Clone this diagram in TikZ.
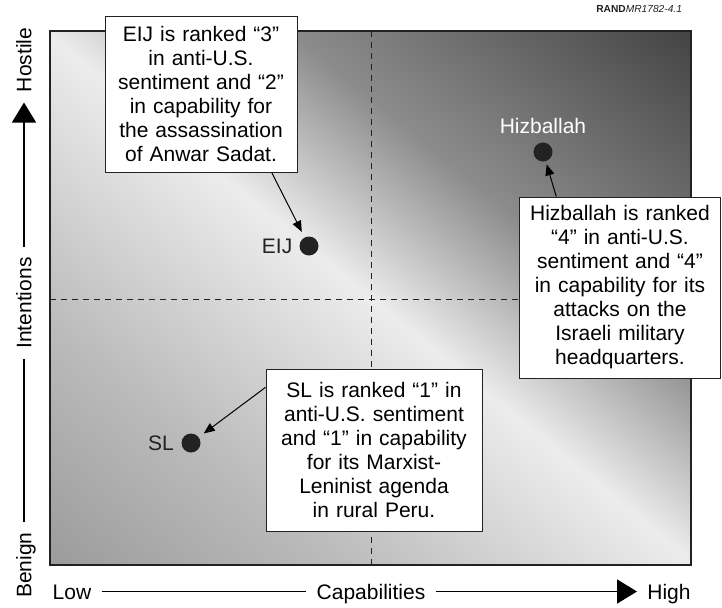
\documentclass[tikz,border=0pt]{standalone}
\usepackage{fontspec}
\setmainfont{Liberation Sans}
\usepackage{tikz}
\usetikzlibrary{arrows.meta}
\usetikzlibrary{positioning}
\usepackage{xcolor}

\definecolor{bgdark}{HTML}{454545}
\definecolor{bgmid}{HTML}{8C8C8C}
\definecolor{bglight}{HTML}{ECECEC}
\definecolor{bgleft}{HTML}{BBBBBB}
\definecolor{bgcorner}{HTML}{9C9C9C}
\definecolor{inkgray}{HTML}{222222}

\pgfdeclarehorizontalshading{fieldshade}{100bp}{color(0bp)=(bgcorner); color(21bp)=(bgcorner); color(34bp)=(bgleft); color(50bp)=(bglight); color(61bp)=(bgmid); color(79bp)=(bgdark); color(100bp)=(bgdark)}

\begin{document}
\begin{tikzpicture}[x=0.5pt,y=-0.5pt,font=\fontsize{10.5}{12}\selectfont,
		note/.style={draw=inkgray,fill=white,line width=0.5pt,align=center,inner sep=0pt},
		dot/.style={circle,fill=inkgray,minimum size=9.5pt,inner sep=0pt},
		ptlabel/.style={inner sep=1pt,text=inkgray},
		axlabel/.style={inner sep=5pt,text height=7.5pt,text depth=0pt},
		pointer/.style={-{Triangle[length=5.5pt,width=4.5pt]},line width=0.5pt,shorten >=3pt},
		bigarrow/.style={-{Triangle[length=10pt,width=12pt]},line width=0.8pt},
		quadline/.style={draw=inkgray,line width=0.5pt,dash pattern=on 3pt off 2.5pt}]
			\useasboundingbox (0,0) rectangle (722,607);
			
			% shaded field (square shade so the angle stays true) and quadrants
			\begin{scope}
				\clip (50,31) rectangle (691,565);
				\fill[shading=fieldshade,shading angle=50.7] (20.5,-52) rectangle (720.5,648);
			\end{scope}
			\draw[quadline] (371,31) -- (371,565);
			\draw[quadline] (50,299) -- (691,299);
			\draw[line width=1.2pt,inkgray] (50,31) rectangle (691,565);
			
			\node[anchor=base east,font=\fontsize{5.1}{6}\selectfont,text=inkgray] (figid) at (689,12) {\textbf{RAND}\textit{MR1782-4.1}};
			
			% groups
			\node[dot] (hizbdot) at (543,152) {};
			\node[dot] (eijdot) at (309,246) {};
			\node[dot] (sldot) at (191,443) {};
			\node[ptlabel,text=white,above=3pt of hizbdot] (hizblabel) {Hizballah};
			\node[ptlabel,left=2.2pt of eijdot] (eijlabel) {EIJ};
			\node[ptlabel,left=2.5pt of sldot] (sllabel) {SL};
			
			% notes
			\node[note,minimum width=96pt,minimum height=78pt,text width=92pt] (eijnote) at (201,94)
			{EIJ is ranked “3”\\ in anti-U.S.\\ sentiment and “2”\\ in capability for\\ the assassination\\ of Anwar Sadat.};
			\node[note,minimum width=100.5pt,minimum height=90.5pt,text width=97pt] (hizbnote) at (620,287.5)
			{Hizballah is ranked\\ “4” in anti-U.S.\\ sentiment and “4”\\ in capability for its\\ attacks on the\\ Israeli military\\ headquarters.};
			\node[note,minimum width=108pt,minimum height=81pt,text width=104pt] (slnote) at (374,450)
			{SL is ranked “1” in\\ anti-U.S. sentiment\\ and “1” in capability\\ for its Marxist-\\ Leninist agenda\\ in rural Peru.};
			
			\draw[pointer] (eijnote.-48) -- (eijdot);
			\draw[pointer,shorten >=1.5pt] (hizbnote.125) -- (hizbdot);
			\draw[pointer] (slnote.150) -- (sldot);
			
			% axes
			\node[axlabel] (low) at (72,591.5) {Low};
			\node[axlabel] (capab) at (371,591.5) {Capabilities};
			\node[axlabel] (high) at (669,591.5) {High};
			\draw[line width=0.8pt] (low) -- (capab);
			\draw[bigarrow] (capab) -- (high);
			
			\node[axlabel,rotate=90] (benign) at (24,565) {Benign};
			\node[axlabel,rotate=90] (intent) at (24,303) {Intentions};
			\node[axlabel,rotate=90] (hostile) at (24,60) {Hostile};
			\draw[line width=0.8pt] (benign) -- (intent);
			\draw[bigarrow] (intent) -- (hostile);
		\end{tikzpicture}
\end{document}
